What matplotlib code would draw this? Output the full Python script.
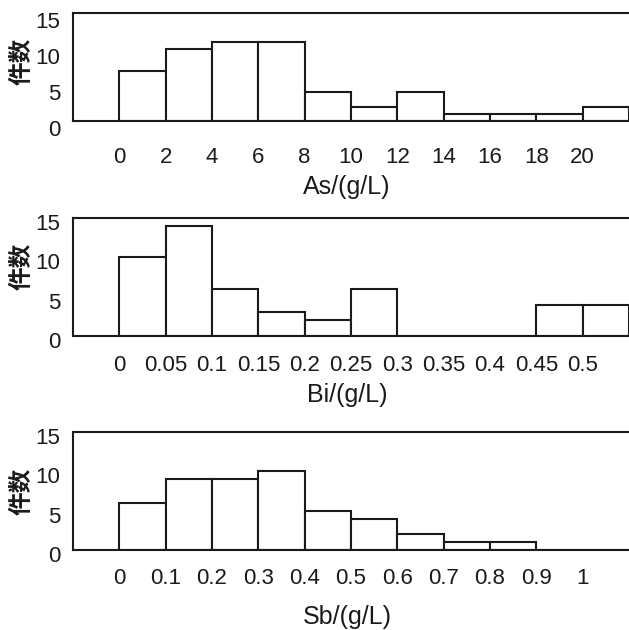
import matplotlib
matplotlib.use("Agg")
import matplotlib.pyplot as plt
import matplotlib.transforms as mtransforms

plt.rcParams['font.family'] = ['Liberation Sans', 'Noto Sans CJK SC', 'DejaVu Sans']

as_labels = ["0", "2", "4", "6", "8", "10", "12", "14", "16", "18", "20"]
as_counts = [7, 10, 11, 11, 4, 2, 4, 1, 1, 1, 2]

bi_labels = ["0", "0.05", "0.1", "0.15", "0.2", "0.25", "0.3", "0.35", "0.4", "0.45", "0.5"]
bi_counts = [10, 14, 6, 3, 2, 6, 0, 0, 0, 4, 4]

sb_labels = ["0", "0.1", "0.2", "0.3", "0.4", "0.5", "0.6", "0.7", "0.8", "0.9", "1"]
sb_counts = [6, 9, 9, 10, 5, 4, 2, 1, 1, 0, 0]

y_ticks = [0, 5, 10, 15]
y_label = "件数"
x_titles = ["As/(g/L)", "Bi/(g/L)", "Sb/(g/L)"]

W, H = 629, 630
fig = plt.figure(figsize=(W / 100, H / 100), dpi=100)

# (top_px, bottom_px, tick label pad [pt], xlabel centre y [px], ytick shift [px], ylabel frac)
layout = [(13, 121, 18.5, 187, 7, 0.556),
          (218, 336, 13.5, 395, 4, 0.59),
          (432, 550, 13, 617, 4, 0.5)]
data = [(as_labels, as_counts), (bi_labels, bi_counts), (sb_labels, sb_counts)]
edge = '#1a1a1a'
left = 73

for (top, bot, tpad, lab_y, yshift, yfrac), (labels, counts), title in zip(layout, data, x_titles):
    hpx = bot - top
    ax = fig.add_axes([left / W, 1 - bot / H, 1 - left / W, hpx / H])
    pos = list(range(len(labels)))
    ax.bar(pos, counts, width=1.0, align='edge', facecolor='white',
           edgecolor=edge, linewidth=1.5)
    ax.set_xlim(-1, len(labels))
    ax.set_ylim(0, 15)
    ax.set_yticks(y_ticks)
    ax.set_xticks(pos)
    ax.set_xticklabels(labels)
    ax.tick_params(axis='both', length=0, labelsize=16, colors='#1a1a1a')
    ax.tick_params(axis='x', pad=tpad)
    ax.tick_params(axis='y', pad=9)
    off = mtransforms.ScaledTranslation(0, -yshift / 100, fig.dpi_scale_trans)
    for lab in ax.get_yticklabels():
        lab.set_transform(lab.get_transform() + off)
    for s in ['top', 'left', 'bottom']:
        ax.spines[s].set_linewidth(1.5)
        ax.spines[s].set_color(edge)
    ax.spines['right'].set_visible(False)
    ax.set_xlabel(title, fontsize=18, color='#1a1a1a')
    ax.xaxis.set_label_coords((347 - left) / (W - left), (bot - lab_y) / hpx)
    ax.xaxis.label.set_va('center')
    ax.set_ylabel(y_label, fontsize=17, fontweight='bold', color='#1a1a1a',
                  family=['Noto Sans CJK SC', 'DejaVu Sans'])
    ax.yaxis.set_label_coords((34 - left) / (W - left), yfrac)

fig.savefig("out.png", dpi=100)
